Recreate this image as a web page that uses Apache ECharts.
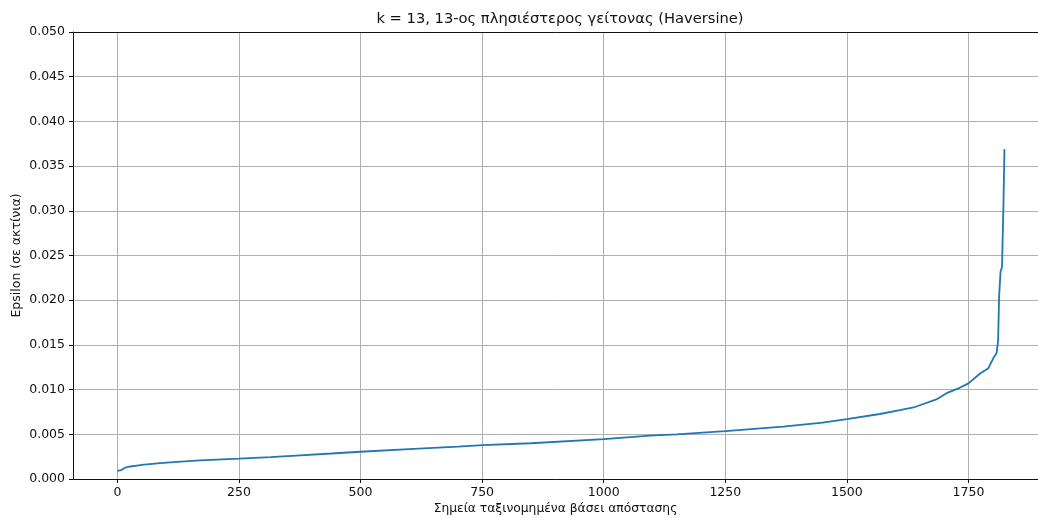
<!DOCTYPE html>
<html>
<head>
<meta charset="utf-8">
<title>k-distance plot</title>
<script src="https://cdn.jsdelivr.net/npm/echarts@6/dist/echarts.min.js"></script>
<style>
  html, body { margin: 0; padding: 0; background: #fff; }
  #chart { width: 1038px; height: 518px; }
</style>
</head>
<body>
<div id="chart"></div>
<script>
// Sorted 13th-nearest-neighbour distances (Haversine, radians), sampled along the sorted index
const pointIndex = [
  0, 8, 16, 27, 40, 55, 88, 123, 170, 250, 315, 376, 440, 500, 600, 700, 751,
  850, 1000, 1095, 1150, 1250, 1369, 1450, 1500, 1568, 1609, 1637, 1684, 1705,
  1732, 1750, 1774, 1791, 1801, 1808, 1811, 1813, 1816, 1819, 1822, 1824
];
const epsilonValues = [
  0.0009, 0.0010, 0.00127, 0.0014, 0.0015, 0.0016, 0.00178, 0.00192, 0.00208,
  0.00227, 0.00245, 0.00265, 0.00285, 0.00305, 0.00335, 0.00362, 0.00378,
  0.0040, 0.00445, 0.00485, 0.0050, 0.00535, 0.00585, 0.0063, 0.0067, 0.00727,
  0.0077, 0.0080, 0.0089, 0.0096, 0.0102, 0.0107, 0.0118, 0.0124, 0.0135,
  0.0141, 0.0155, 0.0204, 0.0232, 0.0237, 0.0308, 0.0369
];
const xTicks = [0, 250, 500, 750, 1000, 1250, 1500, 1750];

const titleText = 'k = 13, 13-ος πλησιέστερος γείτονας (Haversine)';
const xLabel = 'Σημεία ταξινομημένα βάσει απόστασης';
const yLabel = 'Epsilon (σε ακτίνια)';

const FONT = 'DejaVu Sans';
const INK = '#111111';
const GRID = '#b0b0b0';

const seriesData = pointIndex.map((x, i) => [x, epsilonValues[i]]);

const chart = echarts.init(document.getElementById('chart'), null, { renderer: 'canvas' });

chart.setOption({
  animation: false,
  backgroundColor: '#ffffff',
  graphic: [{
    type: 'text',
    x: 560,
    y: 19,
    style: {
      text: titleText,
      font: '14.7px "DejaVu Sans"',
      fill: INK,
      textAlign: 'center',
      textVerticalAlign: 'middle'
    }
  }],
  grid: { left: 73, right: 0, top: 32, bottom: 39, containLabel: false, outerBoundsMode: 'none' },
  xAxis: [{
    type: 'value',
    min: -91.2,
    max: 1893,
    name: xLabel,
    nameLocation: 'middle',
    nameGap: 24,
    nameMoveOverlap: false,
    nameTextStyle: { fontFamily: FONT, fontSize: 12.3, color: INK },
    axisLine: { show: true, onZero: false, lineStyle: { color: INK, width: 1 } },
    axisTick: { show: true, length: 4, inside: false, customValues: xTicks, lineStyle: { color: INK, width: 1 } },
    axisLabel: {
      customValues: xTicks,
      margin: 7,
      fontFamily: FONT,
      fontSize: 12.5,
      color: INK,
      formatter: v => String(v)
    },
    splitLine: { show: true, lineStyle: { color: GRID, width: 1 } }
  }, {
    type: 'value',
    position: 'top',
    min: -91.2,
    max: 1893,
    axisLine: { show: true, onZero: false, lineStyle: { color: INK, width: 1 } },
    axisTick: { show: false },
    axisLabel: { show: false },
    splitLine: { show: false }
  }],
  yAxis: {
    type: 'value',
    min: 0,
    max: 0.05,
    interval: 0.005,
    name: yLabel,
    nameLocation: 'middle',
    nameRotate: 90,
    nameGap: 50,
    nameMoveOverlap: false,
    nameTextStyle: { fontFamily: FONT, fontSize: 12.5, color: INK },
    axisLine: { show: true, onZero: false, lineStyle: { color: INK, width: 1 } },
    axisTick: { show: true, length: 4, inside: false, lineStyle: { color: INK, width: 1 } },
    axisLabel: {
      margin: 8,
      fontFamily: FONT,
      fontSize: 12.5,
      color: INK,
      formatter: v => v.toFixed(3)
    },
    splitLine: { show: true, lineStyle: { color: GRID, width: 1 } }
  },
  series: [{
    type: 'line',
    xAxisIndex: 0,
    data: seriesData,
    showSymbol: false,
    symbol: 'none',
    smooth: false,
    lineStyle: { color: '#1f77b4', width: 1.8 },
    z: 5
  }]
});
</script>
</body>
</html>
